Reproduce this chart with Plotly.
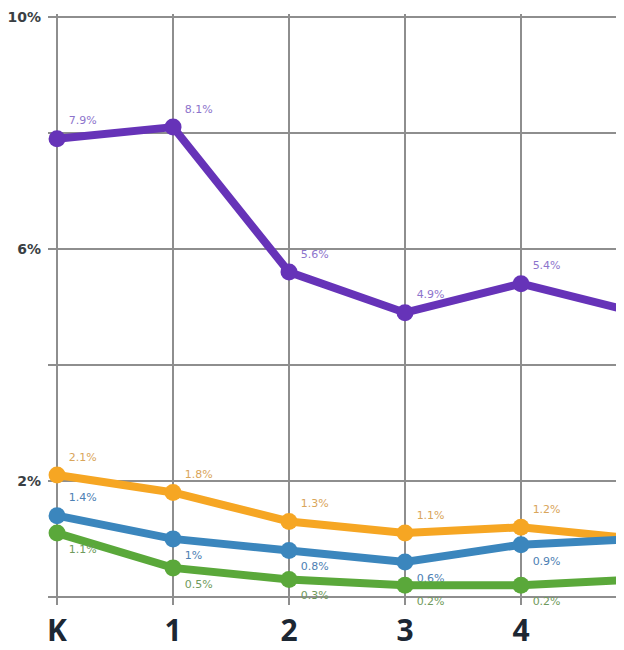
import plotly.graph_objects as go

grades = [0, 1, 2, 3, 4, 5]
grade_labels = ["K", "1", "2", "3", "4", "5"]

purple = [7.9, 8.1, 5.6, 4.9, 5.4, 4.9]
orange = [2.1, 1.8, 1.3, 1.1, 1.2, 1.0]
blue = [1.4, 1.0, 0.8, 0.6, 0.9, 1.0]
green = [1.1, 0.5, 0.3, 0.2, 0.2, 0.3]

y_ticks = [0, 2, 4, 6, 8, 10]
y_ticktext = ["", "2%", "", "6%", "", "10%"]

series = [
    # values, line colour, label colour, label positions
    (purple, "#6633b8", "#8d74cc", ["top right"] * 6),
    (orange, "#f6a623", "#d9a55a", ["top right"] * 6),
    (blue, "#3b86bd", "#4d80b3", ["top right"] + ["bottom right"] * 5),
    (green, "#5aa83a", "#6f9a5c", ["bottom right"] * 6),
]

fig = go.Figure()
for vals, col, lcol, pos in series:
    # grade 5 sits past the cropped right edge, so its label is left blank
    labels = [f"{v:g}%" for v in vals[:5]] + [""]
    fig.add_trace(go.Scatter(
        x=grades, y=vals,
        mode="lines+markers+text",
        line=dict(color=col, width=8),
        marker=dict(color=col, size=17),
        text=labels,
        textposition=pos,
        textfont=dict(family="DejaVu Sans", size=11, color=lcol),
        cliponaxis=False,
        showlegend=False,
    ))

# page body has an 8px margin, so the figure is sized to fit inside it
fig.update_layout(
    width=616, height=642,
    margin=dict(l=40, r=0, t=6, b=45),
    paper_bgcolor="white",
    plot_bgcolor="white",
    xaxis=dict(
        range=[-0.078, 4.888],
        tickvals=grades, ticktext=grade_labels,
        showgrid=True, gridcolor="#8e8e8e", gridwidth=2,
        zeroline=False, showline=False, automargin=False,
        tickfont=dict(family="Noto Sans", size=30, color="#1c2733", weight=700),
        ticks="", ticklabelstandoff=5, ticklabeloverflow="allow",
    ),
    yaxis=dict(
        range=[-0.14, 10.05],
        tickvals=y_ticks, ticktext=y_ticktext,
        showgrid=True, gridcolor="#8e8e8e", gridwidth=2,
        zeroline=False, showline=False, automargin=False,
        tickfont=dict(family="DejaVu Sans", size=14, color="#3a3f44", weight=700),
        ticks="", ticklabelstandoff=6, ticklabeloverflow="allow",
    ),
)

fig.write_html("out.html")
